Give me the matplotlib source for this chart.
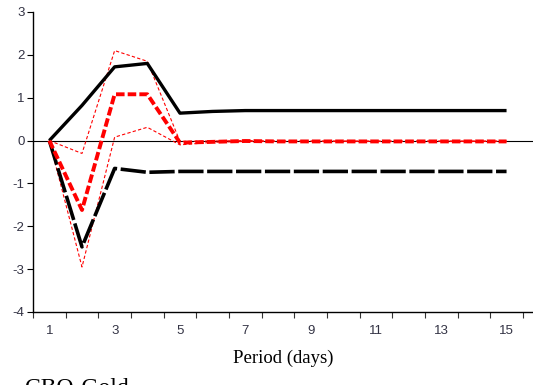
import matplotlib
matplotlib.use("Agg")
import matplotlib.pyplot as plt

plt.rcParams["axes.unicode_minus"] = False
plt.rcParams["font.family"] = ["Liberation Sans", "DejaVu Sans"]

periods = list(range(1, 16))
upper_black = [0, 0.82, 1.72, 1.80, 0.64, 0.68, 0.70, 0.70, 0.70, 0.70, 0.70, 0.70, 0.70, 0.70, 0.70]
lower_black = [0, -2.48, -0.65, -0.74, -0.72, -0.72, -0.72, -0.72, -0.72, -0.72, -0.72, -0.72, -0.72, -0.72, -0.72]
response = [0, -1.62, 1.08, 1.08, -0.05, -0.03, -0.01, -0.02, -0.02, -0.02, -0.02, -0.02, -0.02, -0.02, -0.02]
upper_red = [0, -0.30, 2.10, 1.85, -0.02, -0.01, 0.0, -0.01, -0.01, -0.01, -0.01, -0.01, -0.01, -0.01, -0.01]
lower_red = [0, -2.95, 0.08, 0.31, -0.10, -0.04, -0.02, -0.02, -0.02, -0.02, -0.02, -0.02, -0.02, -0.02, -0.02]
xtick_labels = ["1", "3", "5", "7", "9", "11", "13", "15"]
yticks = [-4, -3, -2, -1, 0, 1, 2, 3]

fig = plt.figure(figsize=(5.33, 3.85), dpi=100)
ax = fig.add_axes([33/533, (385-312)/385, 1 - 33/533, (312-12)/385])

ax.axhline(0, color="black", lw=0.8, zorder=1)
ax.plot(periods, upper_red, color="red", lw=0.8, ls=(0, (3, 2)), zorder=2)
ax.plot(periods, lower_red, color="red", lw=0.8, ls=(0, (3, 2)), zorder=2)
ax.plot(periods, upper_black, color="black", lw=2.4, zorder=3, solid_capstyle="butt")
ax.plot(periods, lower_black, color="black", lw=2.6, ls=(0, (7, 1)), zorder=3)
ax.plot(periods, response, color="red", lw=2.8, ls=(0, (2.2, 0.8)), zorder=4)

ax.set_xlim(0.5, 15.81)
ax.set_ylim(-4, 3)
ax.set_xticks([i + 0.5 for i in range(0, 16)])
ax.set_xticklabels([])
ax.set_xticks([int(t) for t in xtick_labels], minor=True)
ax.set_xticklabels(xtick_labels, minor=True)
ax.tick_params(axis="x", which="minor", length=0, pad=9, labelsize=9.5, labelcolor="#333344")
ax.tick_params(axis="x", which="major", length=4, direction="out", color="#333333")
ax.set_yticks(yticks)
ax.tick_params(axis="y", length=4, direction="out", labelsize=9.5, labelcolor="#333344", pad=2)
for s in ["top", "right"]:
    ax.spines[s].set_visible(False)
ax.spines["left"].set_linewidth(1.0)
ax.spines["bottom"].set_linewidth(1.0)

fig.text(283/533, (385-358)/385, "Period (days)", family="Liberation Serif", fontsize=13.5,
         ha="center", va="center")
fig.text(25/533, (385-378)/385, "CBO-Gold", family="Liberation Serif", fontsize=17,
         ha="left", va="top")

fig.savefig("out.png", dpi=100)
